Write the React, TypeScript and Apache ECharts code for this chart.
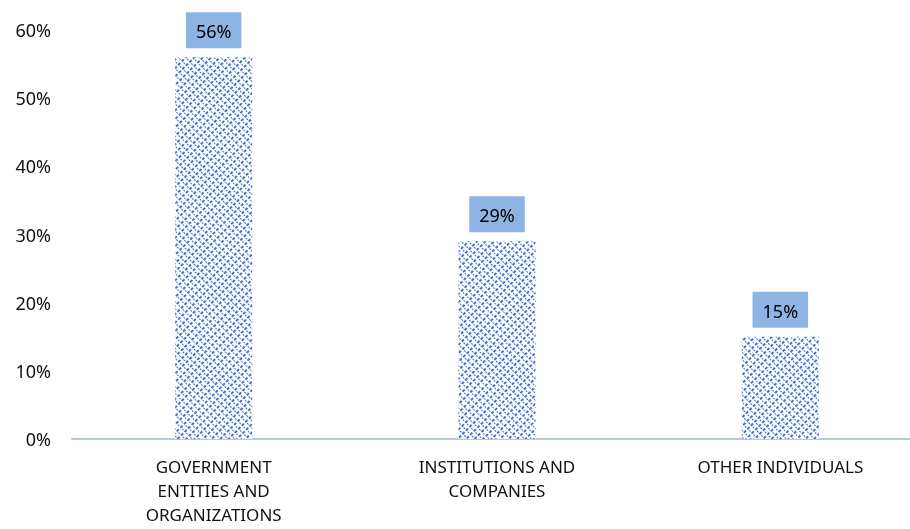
import React, { useEffect, useRef } from "react";
import * as echarts from "echarts";

const categories = [
  "GOVERNMENT\nENTITIES AND\nORGANIZATIONS",
  "INSTITUTIONS AND\nCOMPANIES",
  "OTHER INDIVIDUALS",
];
const values = [56, 29, 15];
const yTicks = [0, 10, 20, 30, 40, 50, 60];

export default function App() {
  const ref = useRef<HTMLDivElement>(null);
  useEffect(() => {
    if (!ref.current) return;
    const chart = echarts.init(ref.current, null, { renderer: "svg" });
    chart.setOption({
      animation: false,
      grid: {
        left: 72,
        top: 30,
        width: 850,
        height: 409,
        containLabel: false,
        outerBoundsMode: "none",
      },
      xAxis: {
        type: "category",
        data: categories,
        axisLine: { lineStyle: { color: "#B4C7E7", width: 2 } },
        axisTick: { show: false },
        axisLabel: {
          interval: 0,
          color: "#111",
          fontFamily: "Noto Sans",
          fontSize: 17,
          lineHeight: 24,
          margin: 15,
        },
      },
      yAxis: {
        type: "value",
        min: yTicks[0],
        max: yTicks[yTicks.length - 1],
        interval: 10,
        splitLine: { show: false },
        axisLine: { show: false },
        axisTick: { show: false },
        axisLabel: {
          formatter: (v: number) => v + "%",
          color: "#111",
          fontFamily: "Noto Sans",
          fontSize: 18,
          margin: 21,
        },
      },
      series: [
        {
          type: "bar",
          data: values,
          barWidth: 77,
          itemStyle: {
            color: "#ffffff",
            decal: {
              symbol: "rect",
              symbolSize: 1,
              color: "#3F6FD1",
              backgroundColor: "#ffffff",
              dashArrayX: [
                [3, 2],
                [1, 4],
              ],
              dashArrayY: [2, 1],
              rotation: -Math.PI / 4,
            },
          },
          label: {
            show: true,
            position: "top",
            distance: 9,
            formatter: (p: any) => p.value + "%",
            color: "#000",
            fontFamily: "Noto Sans",
            fontSize: 18,
            lineHeight: 22,
            backgroundColor: "#8DB4E2",
            padding: [8, 10, 6, 10],
          },
        },
      ],
    });
    return () => chart.dispose();
  }, []);
  return (
    <div
      ref={ref}
      style={{ position: "fixed", left: 0, top: 0, width: 910, height: 529 }}
    />
  );
}
